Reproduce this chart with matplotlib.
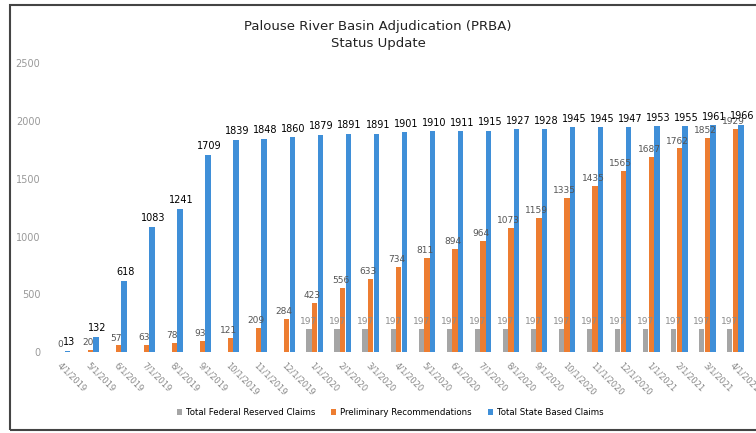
import matplotlib.pyplot as plt
import numpy as np
from matplotlib.patches import Rectangle

# Monthly status dates
dates = ["4/1/2019", "5/1/2019", "6/1/2019", "7/1/2019", "8/1/2019", "9/1/2019",
         "10/1/2019", "11/1/2019", "12/1/2019", "1/1/2020", "2/1/2020", "3/1/2020",
         "4/1/2020", "5/1/2020", "6/1/2020", "7/1/2020", "8/1/2020", "9/1/2020",
         "10/1/2020", "11/1/2020", "12/1/2020", "1/1/2021", "2/1/2021", "3/1/2021",
         "4/1/2021"]

federal = [0, 0, 0, 0, 0, 0, 0, 0, 0, 197, 197, 197, 197, 197, 197, 197,
           197, 197, 197, 197, 197, 197, 197, 197, 197]
prelim = [0, 20, 57, 63, 78, 93, 121, 209, 284, 423, 556, 633, 734, 811,
          894, 964, 1073, 1159, 1335, 1435, 1565, 1687, 1762, 1852, 1929]
state = [13, 132, 618, 1083, 1241, 1709, 1839, 1848, 1860, 1879, 1891, 1891,
         1901, 1910, 1911, 1915, 1927, 1928, 1945, 1945, 1947, 1953, 1955,
         1961, 1966]

C_GRAY = "#a5a5a5"
C_ORANGE = "#ed7d31"
C_BLUE = "#3f8fd8"

fig = plt.figure(figsize=(7.56, 4.33), dpi=100)
ax = fig.add_axes([0.06, 0.187, 0.935, 0.667])

x = np.arange(len(dates))
w = 0.19

b1 = ax.bar(x - w * 1.05, federal, w, color=C_GRAY, label="Total Federal Reserved Claims")
b2 = ax.bar(x, prelim, w, color=C_ORANGE, label="Preliminary Recommendations")
b3 = ax.bar(x + w * 1.05, state, w, color=C_BLUE, label="Total State Based Claims")

for i in range(len(dates)):
    if federal[i] > 0:
        ax.text(x[i] - w * 1.05, federal[i] + 25, str(federal[i]), ha="center",
                va="bottom", fontsize=6.5, color="#8c8c8c")
    ax.text(x[i] - 0.08, prelim[i] + 25, str(prelim[i]), ha="center", va="bottom",
            fontsize=6.5, color="#555555")
    ax.text(x[i] + w * 1.05 + 0.05, state[i] + 30, str(state[i]), ha="center",
            va="bottom", fontsize=7, color="black")

ax.set_ylim(0, 2500)
ax.set_xlim(-0.6, len(dates) - 0.4)
ax.set_yticks([0, 500, 1000, 1500, 2000, 2500])
ax.tick_params(axis="y", labelsize=7, colors="#999999", length=0)
ax.set_xticks(x)
ax.set_xticklabels(dates, rotation=-45, ha="left", va="top",
                   rotation_mode="anchor", fontsize=6, color="#888888")
ax.tick_params(axis="x", length=0, pad=6)
for s in ax.spines.values():
    s.set_visible(False)

fig.text(0.5, 0.92, "Palouse River Basin Adjudication (PRBA)\nStatus Update",
         ha="center", va="center", fontsize=9.5, color="#222222", linespacing=1.4)

fig.legend(handles=[b1, b2, b3], loc="center", bbox_to_anchor=(0.516, 0.047),
           ncol=3, frameon=False, fontsize=6.2, handlelength=0.6, handleheight=0.6,
           columnspacing=1.8, handletextpad=0.5)

# scanned frame around the chart
fig.patches.append(Rectangle((0.013, 0.008), 1.2, 0.98, transform=fig.transFigure,
                             fill=False, edgecolor="#444444", linewidth=1.5))

fig.savefig("out.png", dpi=100)
